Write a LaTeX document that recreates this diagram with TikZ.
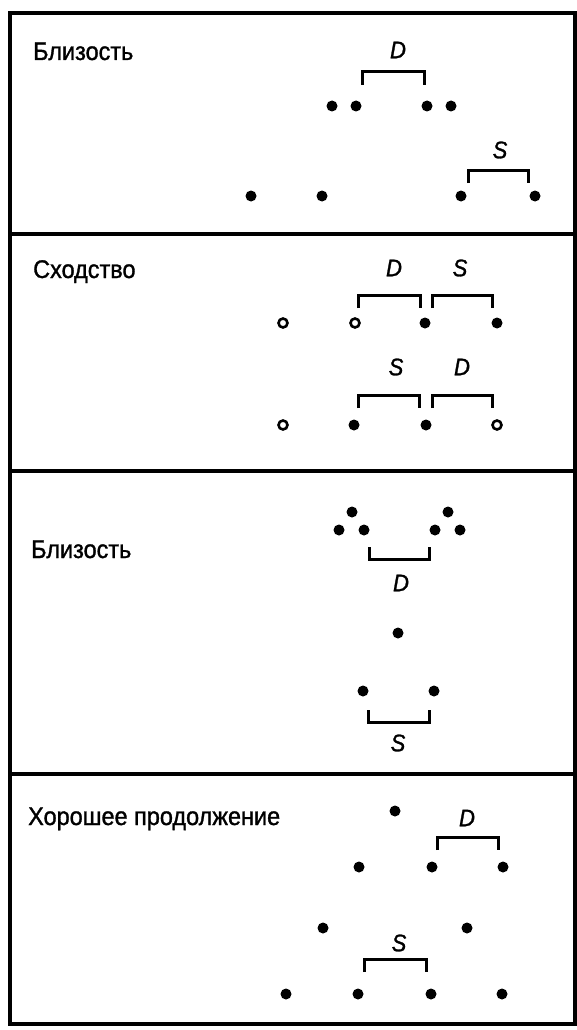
\documentclass[tikz,border=0pt]{standalone}
\usepackage{fontspec}
\setmainfont{Liberation Sans}[FakeStretch=0.92, FakeBold=1.2]

\tikzset{
  dot/.style={circle, fill, inner sep=0pt, minimum size=11pt},
  ring/.style={circle, draw, line width=2.6pt, fill=white, inner sep=0pt, minimum size=9pt},
  bar/.style={line width=3pt},
  frame/.style={line width=3.2pt},
  title/.style={anchor=base west, inner sep=0pt, font=\fontsize{25.5}{26}\selectfont},
  sym/.style={inner sep=0pt, font=\fontsize{24}{24}\selectfont\itshape}
}

% bracket opening downwards / upwards: x1, x2, y of the bar
\newcommand{\capbr}[3]{\draw[bar] (#1,#3+13) |- (#2,#3) -- (#2,#3+13);}
\newcommand{\cupbr}[3]{\draw[bar] (#1,#3-12) |- (#2,#3) -- (#2,#3-12);}

\begin{document}
\begin{tikzpicture}[x=1pt, y=-1pt]
    \useasboundingbox (0,0) rectangle (577,1030);

    % frame and dividers
    \draw[frame] (10,13) rectangle (575,1024);
    \draw[frame] (10,234) -- (575,234);
    \draw[frame] (10,471) -- (575,471);
    \draw[frame] (10,774) -- (575,774);

    % proximity
    \node[title] (near1) at (33,60) {Близость};
    \node[sym] (d1) at (398,50) {D};
    \capbr{362}{424}{72}
    \foreach \x in {332,356,427,451}
        \node[dot] at (\x,106) {};
    \node[sym] (s1) at (500,150) {S};
    \capbr{468}{528}{170}
    \foreach \x in {251,322,461,535}
        \node[dot] at (\x,196) {};

    % similarity
    \begin{scope}[shift={(0,234)}]
        \node[title] (alike) at (33,44) {Сходство};
        \node[sym] (d2) at (394,34) {D};
        \node[sym] (s2) at (460,34) {S};
        \capbr{358}{420}{61}
        \capbr{432}{492}{61}
        \node[ring] at (283,89) {};
        \node[ring] at (355,89) {};
        \node[dot] at (425,89) {};
        \node[dot] at (497,89) {};

        \node[sym] (s3) at (396,133) {S};
        \node[sym] (d3) at (462,133) {D};
        \capbr{358}{419}{161}
        \capbr{432}{492}{161}
        \node[ring] at (283,191) {};
        \node[dot] at (354,191) {};
        \node[dot] at (426,191) {};
        \node[ring] at (497,191) {};
    \end{scope}

    % proximity, vertical
    \begin{scope}[shift={(0,471)}]
        \node[title] (near2) at (31,87) {Близость};
        \foreach \x in {352,448}
            \node[dot] at (\x,41) {};
        \foreach \x in {339,364,435,460}
            \node[dot] at (\x,59) {};
        \cupbr{369}{429}{88}
        \node[sym] (d4) at (401,112) {D};
        \node[dot] at (398,162) {};
        \node[dot] at (363,220) {};
        \node[dot] at (434,220) {};
        \cupbr{368}{429}{251}
        \node[sym] (s4) at (398,272) {S};
    \end{scope}

    % good continuation
    \begin{scope}[shift={(0,774)}]
        \node[title] (cont) at (28,51) {Хорошее продолжение};
        \node[dot] at (395,37) {};
        \node[sym] (d5) at (467,44) {D};
        \capbr{437}{498}{63}
        \foreach \x in {359,432,503}
            \node[dot] at (\x,93) {};
        \node[dot] at (323,154) {};
        \node[dot] at (467,154) {};
        \node[sym] (s5) at (399,169) {S};
        \capbr{364}{426}{185}
        \foreach \x in {286,358,431,502}
            \node[dot] at (\x,220) {};
    \end{scope}
\end{tikzpicture}
\end{document}
